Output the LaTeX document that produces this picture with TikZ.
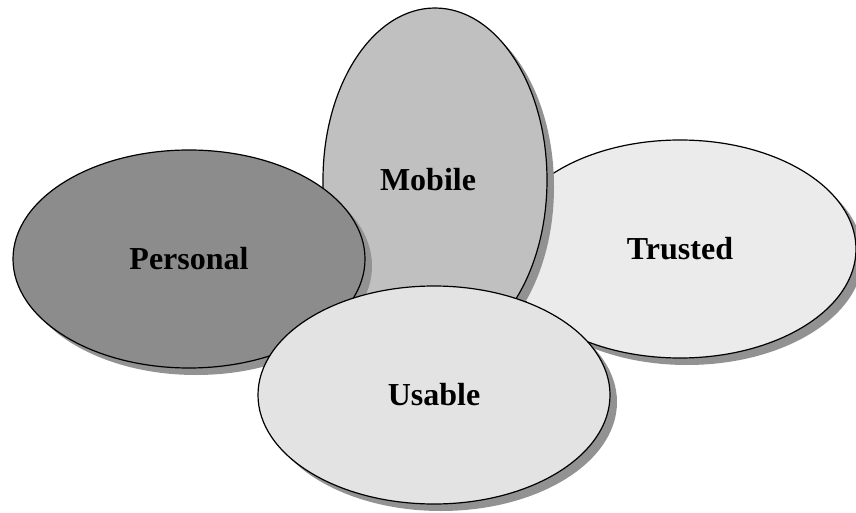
\documentclass[tikz,border=0pt]{standalone}
\usepackage{fontspec}
\setmainfont{Liberation Serif}
\usepackage{tikz}
\usetikzlibrary{shapes.geometric,shadows}
\usepackage{xcolor}
\definecolor{Pcol}{HTML}{8C8C8C}
\definecolor{Mcol}{HTML}{C0C0C0}
\definecolor{Tcol}{HTML}{EBEBEB}
\definecolor{Ucol}{HTML}{E3E3E3}
\definecolor{Scol}{HTML}{929292}
\tikzstyle{bubble}=[ellipse,draw=black,line width=1.2pt,inner sep=0,
  font=\bfseries\fontsize{32}{38}\selectfont,
  drop shadow={shadow xshift=7pt,shadow yshift=-7pt,fill=Scol,opacity=1}]
\tikzstyle{flat}=[bubble,minimum width=352pt,minimum height=218pt]
\tikzstyle{tall}=[bubble,minimum width=224pt,minimum height=344pt]

\begin{document}
\begin{tikzpicture}[x=1pt,y=-1pt]
  \useasboundingbox (0,0) rectangle (856,513);

  % BACK ELLIPSES
  \node[flat,fill=Tcol] (trusted) at (680,249) {Trusted};
  \node[tall,fill=Mcol] (mobile) at (435,180) {Mobile\hspace*{14pt}};

  % FRONT ELLIPSES
  \node[flat,fill=Pcol] (personal) at (189,259) {Personal};
  \node[flat,fill=Ucol] (usable) at (434,395) {Usable};

\end{tikzpicture}
\end{document}
